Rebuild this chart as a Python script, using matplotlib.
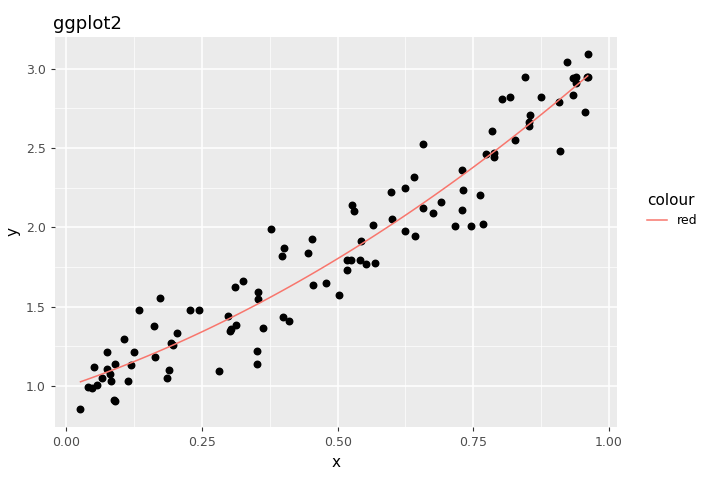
import numpy as np
import matplotlib.pyplot as plt
from matplotlib.lines import Line2D

# Punkte
x = [.026, .039, .050, .048, .057, .066, .074, .074, .083, .081, .089, .087, .090, .107, .113,
     .120, .124, .133, .161, .164, .173, .185, .190, .196, .192, .203, .227, .245, .282, .297,
     .301, .303, .310, .312, .325, .351, .351, .354, .354, .362, .378, .399, .397, .402, .410,
     .445, .452, .454, .478, .502, .517, .517, .524, .526, .531, .542, .544, .552, .565, .568,
     .598, .600, .624, .625, .640, .642, .657, .657, .675, .690, .716, .729, .729, .732, .745,
     .762, .768, .773, .784, .788, .788, .803, .817, .827, .845, .852, .852, .854, .875, .908,
     .910, .923, .934, .939, .934, .939, .956, .959, .961, .961]
y = [.856, .994, 1.12, .988, 1.006, 1.05, 1.106, 1.214, 1.032, 1.076, 1.138, .912, .906, 1.296, 1.032,
     1.132, 1.214, 1.478, 1.378, 1.182, 1.554, 1.05, 1.10, 1.258, 1.27, 1.334, 1.478, 1.478, 1.094, 1.44,
     1.346, 1.358, 1.622, 1.384, 1.66, 1.22, 1.138, 1.592, 1.548, 1.364, 1.988, 1.434, 1.818, 1.868, 1.408,
     1.836, 1.924, 1.636, 1.65, 1.572, 1.73, 1.792, 1.792, 2.138, 2.10, 1.792, 1.912, 1.77, 2.012, 1.774,
     2.22, 2.05, 2.246, 1.974, 2.314, 1.944, 2.528, 2.12, 2.088, 2.158, 2.006, 2.106, 2.358, 2.238, 2.006,
     2.202, 2.018, 2.46, 2.61, 2.466, 2.44, 2.806, 2.824, 2.548, 2.95, 2.636, 2.666, 2.71, 2.82, 2.792,
     2.478, 3.044, 2.836, 2.95, 2.944, 2.912, 2.73, 2.95, 3.094, 2.95]

coef = np.polyfit(x, y, 2)
xs = np.linspace(min(x), max(x), 100)

fig = plt.figure(figsize=(7.2, 4.8), dpi=100)
ax = fig.add_axes([55/720, 53/480, 562/720, 390/480])
ax.set_facecolor('#EBEBEB')
for s in ax.spines.values():
    s.set_visible(False)
ax.set_xlim(-0.021, 1.015)
ax.set_ylim(0.74, 3.2)
ax.set_xticks([0, .25, .5, .75, 1])
ax.set_xticklabels(['0.00', '0.25', '0.50', '0.75', '1.00'])
ax.set_yticks([1, 1.5, 2, 2.5, 3])
ax.set_yticklabels(['1.0', '1.5', '2.0', '2.5', '3.0'])
ax.set_xticks([.125, .375, .625, .875], minor=True)
ax.set_yticks([1.25, 1.75, 2.25, 2.75], minor=True)
ax.grid(which='major', color='white', linewidth=1.1)
ax.grid(which='minor', color='white', linewidth=0.5)
ax.set_axisbelow(True)
ax.tick_params(which='major', colors='#333333', labelsize=9, length=3, color='#333333')
ax.tick_params(which='minor', length=0)
ax.tick_params(axis='x', labelcolor='#4D4D4D')
ax.tick_params(axis='y', labelcolor='#4D4D4D')

ax.scatter(x, y, s=22, color='black', zorder=3)
ax.plot(xs, np.polyval(coef, xs), color='#F8766D', linewidth=1.1, zorder=4)

ax.set_xlabel('x', fontsize=11)
ax.set_ylabel('y', fontsize=11)
ax.set_title('ggplot2', loc='left', fontsize=13, x=-0.003)

handle = Line2D([], [], color='#F8766D', linewidth=1.1)
leg = fig.legend([handle], ['red'], title='colour', loc='upper left',
                 bbox_to_anchor=(636/720, 298/480), frameon=False, fontsize=9,
                 title_fontsize=11, handlelength=1.6)
leg._legend_box.align = 'left'

plt.savefig('out.png')
